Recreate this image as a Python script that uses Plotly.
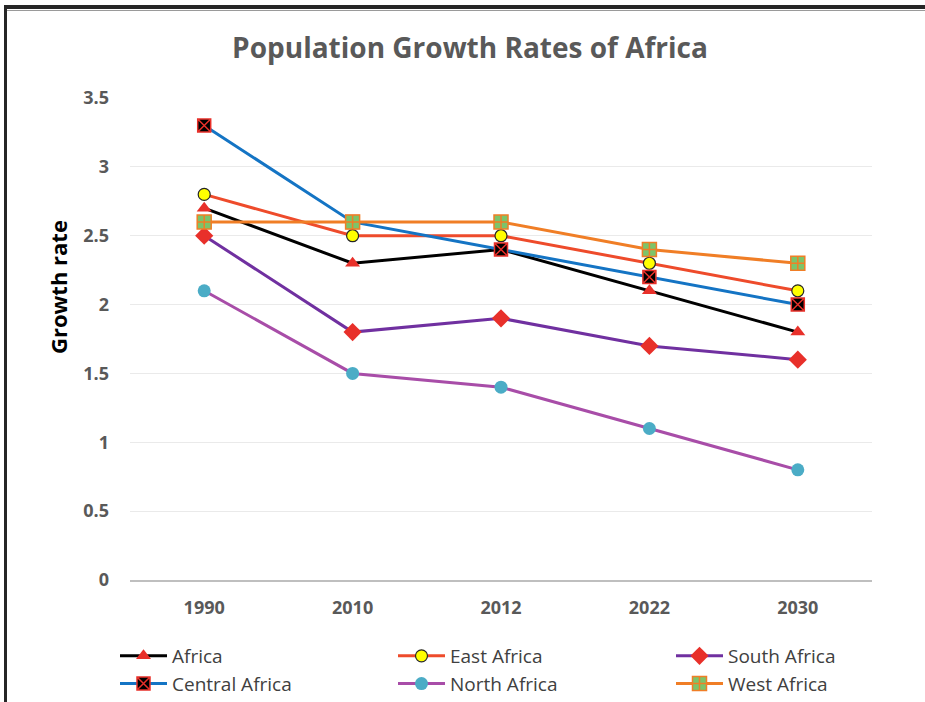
import plotly.graph_objects as go

years = ["1990", "2010", "2012", "2022", "2030"]
africa = [2.7, 2.3, 2.4, 2.1, 1.8]
east_africa = [2.8, 2.5, 2.5, 2.3, 2.1]
south_africa = [2.5, 1.8, 1.9, 1.7, 1.6]
central_africa = [3.3, 2.6, 2.4, 2.2, 2.0]
north_africa = [2.1, 1.5, 1.4, 1.1, 0.8]
west_africa = [2.6, 2.6, 2.6, 2.4, 2.3]
y_ticks = [0, 0.5, 1, 1.5, 2, 2.5, 3, 3.5]
y_tick_labels = ["0", "0.5", "1", "1.5", "2", "2.5", "3", "3.5"]

series = [
    ("Africa", africa, "#000000", dict(symbol="triangle-up", size=13, color="#E8302A", line=dict(width=0))),
    ("East Africa", east_africa, "#EE4B2B", dict(symbol="circle", size=12, color="#FFFF00", line=dict(width=1.2, color="#262626"))),
    ("South Africa", south_africa, "#7030A0", dict(symbol="diamond", size=14, color="#E8302A", line=dict(width=0))),
    ("Central Africa", central_africa, "#1474C4", dict(symbol="square-x", size=13, color="#000000", line=dict(width=1.5, color="#E8302A"))),
    ("North Africa", north_africa, "#A84DA8", dict(symbol="circle", size=13, color="#4BACC6", line=dict(width=0))),
    ("West Africa", west_africa, "#F07E26", dict(symbol="square-cross", size=14, color="#7CC46A", line=dict(width=1.5, color="#F07E26"))),
]

fig = go.Figure()
for name, vals, lc, mk in series:
    fig.add_trace(go.Scatter(x=years, y=vals, name=name, mode="lines+markers",
                             line=dict(color=lc, width=3), marker=mk))

W, H = 925, 702
L, R, T, B = 130, 53, 98, 122
pw, ph = W - L - R, H - T - B

def px(x):
    return (x - L) / pw

def py(y):
    return (H - B - y) / ph

fig.update_layout(
    width=W, height=H,
    margin=dict(l=L, r=R, t=T, b=B, autoexpand=False),
    paper_bgcolor="white", plot_bgcolor="white",
    font=dict(family="Open Sans", color="#595959"),
    title=dict(text="<b>Population Growth Rates of Africa</b>", x=470 / W, xanchor="center",
               y=1 - 48 / H, yanchor="middle", font=dict(size=28, color="#595959")),
    showlegend=True,
    legend=dict(orientation="h", x=px(115), y=py(637), xanchor="left", yanchor="top",
                entrywidth=216, entrywidthmode="pixels", font=dict(size=19, color="#404040"),
                traceorder="normal", itemwidth=47),
    xaxis=dict(type="category", range=[-0.5, len(years) - 0.5], showgrid=False, showline=True,
               linecolor="#BFBFBF", linewidth=1.5,
               ticks="", tickfont=dict(size=18, color="#595959", family="Open Sans"),
               ticklabelstandoff=11, tickprefix="<b>", ticksuffix="</b>", fixedrange=True),
    yaxis=dict(range=[0, 3.5], tickvals=y_ticks, ticktext=[f"<b>{t}</b>" for t in y_tick_labels],
               showgrid=True, gridcolor="#EAEAEA", gridwidth=1, zeroline=False, showline=False,
               ticks="", tickfont=dict(size=18, color="#595959", family="Open Sans"),
               ticklabelstandoff=20),
    annotations=[dict(text="<b>Growth rate</b>", textangle=-90, x=px(58), y=py(287),
                      xref="paper", yref="paper", xanchor="center", yanchor="middle", showarrow=False,
                      font=dict(size=22, color="#000000", family="Open Sans"))],
    shapes=[
        dict(type="line", xref="paper", yref="paper", x0=px(4), x1=px(925), y0=py(7), y1=py(7),
             line=dict(color="#262626", width=4)),
        dict(type="line", xref="paper", yref="paper", x0=px(7), x1=px(925), y0=py(10.5), y1=py(10.5),
             line=dict(color="#9A9A9A", width=1)),
        dict(type="line", xref="paper", yref="paper", x0=px(5.5), x1=px(5.5), y0=py(5), y1=py(702),
             line=dict(color="#262626", width=3)),
    ],
)

fig.write_html("out.html", config={"displayModeBar": False},
               post_script="document.body.style.margin='0';document.body.style.overflow='hidden';")
